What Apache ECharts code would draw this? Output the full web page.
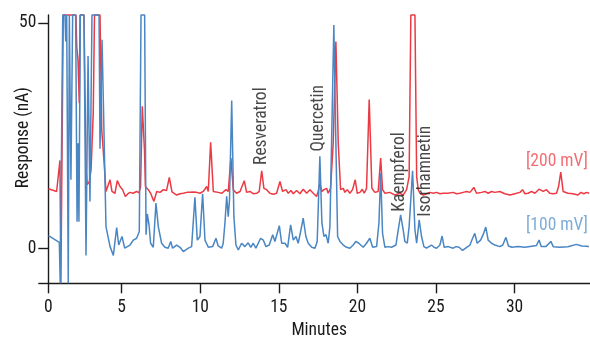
<!DOCTYPE html>
<html>
<head>
<meta charset="utf-8">
<script src="https://cdn.jsdelivr.net/npm/echarts@6/dist/echarts.min.js"></script>
<style>
html,body{margin:0;padding:0;background:#fff;}
#chart{width:590px;height:343px;}
</style>
</head>
<body>
<div id="chart"></div>
<script>
// ---- data (minutes, nA) ----
const blueTrace100mV = [[0.34,2.8],[1.03,1.3],[1.09,-7.8],[1.17,-7.8],[1.25,51.8],[1.39,51.8],[1.44,45.9],[1.50,51.8],[1.55,51.8],[1.60,-7.8],[1.67,51.8],[1.72,51.8],[1.77,15.2],[1.88,51.8],[2.07,51.8],[2.16,5.9],[2.22,23.3],[2.28,5.9],[2.37,51.8],[2.60,51.8],[2.73,-1.6],[2.86,42.7],[2.98,10.4],[3.11,51.8],[3.56,51.8],[3.62,22.1],[3.75,46.3],[3.83,33],[4.00,4.8],[4.26,0.35],[4.47,-1.6],[4.68,4.6],[4.81,0.7],[5.02,2.6],[5.19,0],[5.53,0.7],[5.74,1.8],[5.95,2.2],[6.12,3.7],[6.23,51.8],[6.46,51.8],[6.55,3.0],[6.63,7.6],[6.74,5.2],[6.84,1.1],[7.01,0.2],[7.18,10.0],[7.33,4.8],[7.54,1.1],[7.75,0.2],[7.96,0],[8.12,1.5],[8.24,0],[8.50,0.7],[8.71,0.2],[8.92,-0.75],[9.24,0],[9.45,0.35],[9.66,11.3],[9.81,1.8],[9.98,2.6],[10.15,12.1],[10.30,1.8],[10.51,0.2],[10.79,0.35],[11.00,2.2],[11.14,0.5],[11.36,0],[11.46,1.1],[11.57,5.6],[11.68,11.5],[11.78,7.0],[11.86,10.7],[12.00,32.8],[12.14,7.0],[12.27,0.7],[12.42,-0.4],[12.63,1.1],[12.84,0.35],[13.05,1.2],[13.21,0.2],[13.37,1.1],[13.54,0],[13.84,2.2],[14.01,1.8],[14.18,0.35],[14.39,0.7],[14.61,3.0],[14.75,1.5],[15.03,5.0],[15.18,1.1],[15.39,1.1],[15.56,0.2],[15.75,5.2],[15.92,1.8],[16.09,2.6],[16.23,1.1],[16.41,4.1],[16.55,6.7],[16.72,2.6],[16.87,1.1],[17.09,0.2],[17.30,0],[17.44,1.5],[17.61,20.4],[17.74,5.6],[17.87,2.6],[18.00,3.0],[18.14,1.1],[18.25,4.8],[18.38,27.8],[18.50,49.6],[18.63,23.3],[18.74,2.6],[18.89,1.5],[19.10,0.7],[19.31,0.2],[19.52,0],[19.73,0.7],[19.90,1.5],[20.09,1.1],[20.37,0.2],[20.58,1.1],[20.79,2.2],[20.97,0.2],[21.22,0.35],[21.37,5.6],[21.48,16.7],[21.60,3.3],[21.75,0.2],[21.96,0.35],[22.17,0.2],[22.45,0.7],[22.60,4.1],[22.75,7.4],[22.91,4.1],[23.02,1.5],[23.17,1.1],[23.29,4.8],[23.51,17.2],[23.66,4.1],[23.77,1.1],[23.93,6.3],[24.08,2.6],[24.23,0.35],[24.40,0],[24.55,0.35],[24.72,0.7],[24.87,0.2],[25.04,0],[25.25,0.7],[25.39,2.7],[25.52,0.2],[25.78,0.35],[26.09,0],[26.27,0.35],[26.47,0.2],[26.69,-0.5],[26.95,0.2],[27.16,0.7],[27.33,2.2],[27.47,3.3],[27.62,1.1],[27.84,1.8],[28.00,3.0],[28.17,4.7],[28.32,1.8],[28.54,1.1],[28.75,0.7],[29.06,0.35],[29.25,0.7],[29.45,2.4],[29.61,0.5],[29.83,0.2],[30.21,0.35],[30.65,0.2],[31.10,0.45],[31.39,0.6],[31.56,1.8],[31.70,0.35],[31.99,0.35],[32.31,1.5],[32.47,0.3],[32.88,0.2],[33.39,0.3],[33.94,0.85],[34.28,0.5],[34.73,0.35]];

const redTrace200mV = [[0.34,13.2],[0.86,12.6],[1.07,19.5],[1.13,-7.8],[1.19,-7.8],[1.28,51.8],[2.09,51.8],[2.14,44.8],[2.22,41.8],[2.30,32.2],[2.35,51.8],[2.60,51.8],[2.73,17.4],[2.81,14.1],[2.94,14.8],[3.05,17.4],[3.19,30],[3.27,51.8],[3.62,51.8],[3.73,26.3],[3.87,19.6],[4.00,12.6],[4.08,12.2],[4.26,15.2],[4.38,12.6],[4.57,12.2],[4.72,15.0],[4.89,13.7],[5.06,13.0],[5.23,11.5],[5.40,12.1],[5.53,12.4],[5.72,12.2],[5.95,12.6],[6.10,12.3],[6.20,13.6],[6.31,31.5],[6.45,21.8],[6.51,13.7],[6.69,13.0],[6.84,12.2],[7.05,10.4],[7.23,12.6],[7.44,12.4],[7.65,13.0],[7.85,12.8],[8.03,15.7],[8.20,12.5],[8.50,11.8],[8.71,12.1],[8.92,12.2],[9.15,12.4],[9.34,12.4],[9.55,12.5],[9.77,12.4],[9.98,12.2],[10.19,12.6],[10.41,13.7],[10.51,12.6],[10.66,23.5],[10.83,12.6],[11.14,12.4],[11.38,12.2],[11.63,13.0],[11.78,12.6],[11.95,20.0],[12.10,13.0],[12.31,12.2],[12.53,12.6],[12.65,12.4],[12.80,15.0],[12.95,12.4],[13.16,12.6],[13.37,12.1],[13.59,12.2],[13.75,12.6],[13.91,17.2],[14.05,13.3],[14.22,13.0],[14.43,12.2],[14.64,12.0],[14.86,12.2],[15.07,14.8],[15.24,12.6],[15.45,13.0],[15.60,12.2],[15.77,12.8],[15.92,12.1],[16.13,12.8],[16.34,12.1],[16.55,13.1],[16.77,12.2],[16.98,13.0],[17.19,12.2],[17.40,11.5],[17.50,12.6],[17.61,14.4],[17.74,12.6],[17.87,13.0],[18.04,13.3],[18.14,12.2],[18.29,13.3],[18.46,23.3],[18.63,45.9],[18.78,23.3],[18.93,13.0],[19.10,13.3],[19.20,12.4],[19.35,13.0],[19.52,12.2],[19.69,13.0],[19.86,15.2],[19.99,12.2],[20.16,12.4],[20.31,13.1],[20.43,12.2],[20.58,13.3],[20.75,33.0],[20.92,13.3],[21.11,12.4],[21.32,12.6],[21.48,20.0],[21.60,13.0],[21.75,12.2],[22.07,12.4],[22.39,11.8],[22.70,12.2],[22.91,11.8],[23.13,13.0],[23.29,15.9],[23.40,51.8],[23.66,51.8],[23.77,15.9],[23.87,13.0],[23.98,12.2],[24.19,11.8],[24.40,12.1],[24.61,12.4],[24.82,12.2],[25.04,12.4],[25.25,12.1],[25.46,12.2],[25.76,12.2],[26.09,12.4],[26.31,12.1],[26.52,12.2],[26.73,12.4],[26.95,12.6],[27.16,12.4],[27.41,13.5],[27.58,12.2],[27.90,12.4],[28.11,12.6],[28.32,12.2],[28.54,12.6],[28.75,12.4],[29.06,12.6],[29.38,12.1],[29.70,11.8],[30.02,12.1],[30.34,12.4],[30.51,13.0],[30.65,12.1],[30.86,12.2],[31.08,12.6],[31.29,12.2],[31.56,13.1],[31.82,12.6],[32.03,13.0],[32.24,12.2],[32.45,12.1],[32.67,12.2],[32.80,13.7],[32.94,16.9],[33.09,12.6],[33.40,12.2],[33.72,12.1],[34.04,11.8],[34.22,12.4],[34.41,12.1],[34.58,12.4],[34.75,12.2]];

const xTickValues = [0, 5, 10, 15, 20, 25, 30];
const yTickValues = [0, 50];
const peakNames = ['Resveratrol', 'Quercetin', 'Kaempferol', 'Isorhamnetin'];
const peakTimes = [13.93, 17.55, 22.68, 24.35];
const peakLabelLevels = [18.5, 21.5, 8.1, 7.0];
const traceTags = ['[200 mV]', '[100 mV]'];
const traceTagTime = 34.66;
const traceTagLevels = [19.2, 5.0];

// ---- axis extent ----
const xMin = 0.33, xMax = 34.8;
const yMin = -7.8, yMax = 51.8;

const RED = '#ec3a44', BLUE = '#4a86c3';
const RED_TXT = '#ef4a53', BLUE_TXT = '#5f97cc';
const FONT = '"Roboto Condensed", "DejaVu Sans Condensed", sans-serif';
const FS = 17.5;
const INK = '#1a1a1a';

const chart = echarts.init(document.getElementById('chart'), null, {renderer: 'canvas'});

const xTicks = xTickValues.map(v => Math.max(v, xMin));

const peakData = peakNames.map((n, i) => ({
  name: n,
  value: [peakTimes[i], peakLabelLevels[i]],
  label: {show: true, formatter: n, rotate: 90, align: 'left', verticalAlign: 'middle',
          position: 'inside', color: INK, fontFamily: FONT, fontSize: FS}
}));
const tagData = traceTags.map((n, i) => ({
  name: n,
  value: [traceTagTime, traceTagLevels[i]],
  label: {show: true, formatter: n, align: 'right', verticalAlign: 'middle',
          position: 'inside', color: i === 0 ? RED_TXT : BLUE_TXT, fontFamily: FONT, fontSize: FS}
}));

chart.setOption({
  animation: false,
  backgroundColor: '#ffffff',
  grid: {left: 48.3, right: 0, top: 15, bottom: 59.7, outerBoundsMode: 'none'},
  xAxis: {
    type: 'value', min: xMin, max: xMax,
    name: 'Minutes', nameLocation: 'middle', nameGap: 38, nameMoveOverlap: false,
    nameTextStyle: {color: INK, fontFamily: FONT, fontSize: FS},
    axisLine: {show: true, onZero: false, lineStyle: {color: INK, width: 1.4}},
    axisTick: {show: true, length: 10, customValues: xTicks, lineStyle: {color: INK, width: 1.4}},
    axisLabel: {show: true, customValues: xTicks, margin: 15, color: INK, fontFamily: FONT, fontSize: FS,
      formatter: v => (v === xMin ? '0' : String(v))},
    splitLine: {show: false}
  },
  yAxis: {
    type: 'value', min: yMin, max: yMax,
    name: 'Response (nA)', nameLocation: 'middle', nameGap: 16, nameRotate: 90, nameMoveOverlap: false,
    nameTextStyle: {color: INK, fontFamily: FONT, fontSize: FS, padding: [0, 0, 0, 23]},
    axisLine: {show: true, onZero: false, lineStyle: {color: INK, width: 1.4}},
    axisTick: {show: true, length: 10, customValues: [yMin].concat(yTickValues), lineStyle: {color: INK, width: 1.4}},
    axisLabel: {show: true, customValues: yTickValues, margin: 12, color: INK, fontFamily: FONT, fontSize: FS},
    splitLine: {show: false}
  },
  series: [
    {name: '200 mV', type: 'line', data: redTrace200mV, showSymbol: false, symbol: 'none',
     clip: false, silent: true, lineStyle: {color: RED, width: 1.5}, z: 2},
    {name: '100 mV', type: 'line', data: blueTrace100mV, showSymbol: false, symbol: 'none',
     clip: false, silent: true, lineStyle: {color: BLUE, width: 1.5}, z: 3},
    {name: 'peaks', type: 'scatter', data: peakData, symbolSize: 0, silent: true, z: 5},
    {name: 'tags', type: 'scatter', data: tagData, symbolSize: 0, silent: true, z: 5}
  ]
});
</script>
</body>
</html>
